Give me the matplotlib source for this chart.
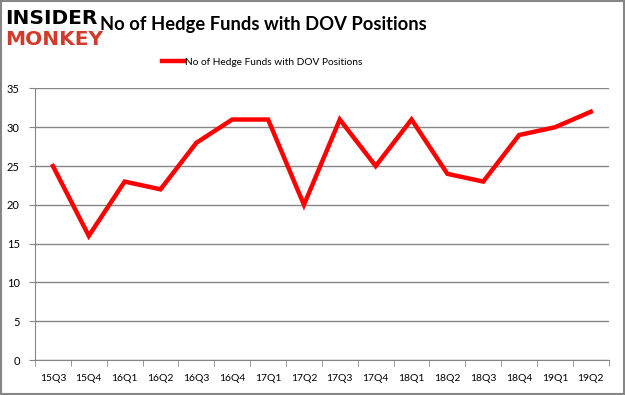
import numpy as np
import matplotlib.pyplot as plt
from matplotlib.patches import Rectangle

quarters = ['15Q3', '15Q4', '16Q1', '16Q2', '16Q3', '16Q4', '17Q1', '17Q2',
            '17Q3', '17Q4', '18Q1', '18Q2', '18Q3', '18Q4', '19Q1', '19Q2']
funds = [25, 16, 23, 22, 28, 31, 31, 20, 31, 25, 31, 24, 23, 29, 30, 32]
series_name = 'No of Hedge Funds with DOV Positions'

plt.rcParams['font.family'] = ['Lato', 'DejaVu Sans']

fig = plt.figure(figsize=(6.25, 3.95), dpi=100)
ax = fig.add_axes([0.056, 0.0886, 0.918, 0.6874])

x = np.arange(len(quarters))
line, = ax.plot(x, funds, color='#ff0000', lw=3.2, solid_joinstyle='miter',
                label=series_name)

ax.set_xlim(-0.5, len(quarters) - 0.5)
ax.set_ylim(0, 35)
ax.set_yticks(np.arange(0, 36, 5))
ax.set_xticks(x)
ax.set_xticklabels(quarters, fontsize=7.5)
ax.set_xticks(np.arange(-0.5, len(quarters), 1), minor=True)
ax.tick_params(axis='x', which='major', length=0, pad=10)
ax.tick_params(axis='x', which='minor', length=4, color='#868686')
ax.tick_params(axis='y', length=4, color='#868686', labelsize=8, pad=7)
ax.grid(axis='y', color='#868686', lw=1)
ax.set_axisbelow(True)
for s in ['top', 'right']:
    ax.spines[s].set_visible(False)
for s in ['left', 'bottom']:
    ax.spines[s].set_color('#868686')

# legend
fig.legend(handles=[line], loc='center', bbox_to_anchor=(0.42, 0.843),
           frameon=False, fontsize=7.3, handlelength=2.2, handletextpad=0.1)

# title and logo
fig.text(0.16, 0.939, 'No of Hedge Funds with DOV Positions', fontsize=13.2,
         fontweight='bold', va='center', ha='left')
fig.text(0.008, 0.954, 'INSIDER', fontsize=14.5, fontweight='heavy',
         color='black', va='center', ha='left', family='DejaVu Sans')
fig.text(0.008, 0.899, 'MONKEY', fontsize=14.5, fontweight='heavy',
         color='#d33a2a', va='center', ha='left', family='DejaVu Sans')

fig.patches.append(Rectangle((0.001, 0.002), 0.997, 0.996, transform=fig.transFigure,
                             fill=False, edgecolor='#868686', lw=1.5))

fig.savefig('out.png', dpi=100)
